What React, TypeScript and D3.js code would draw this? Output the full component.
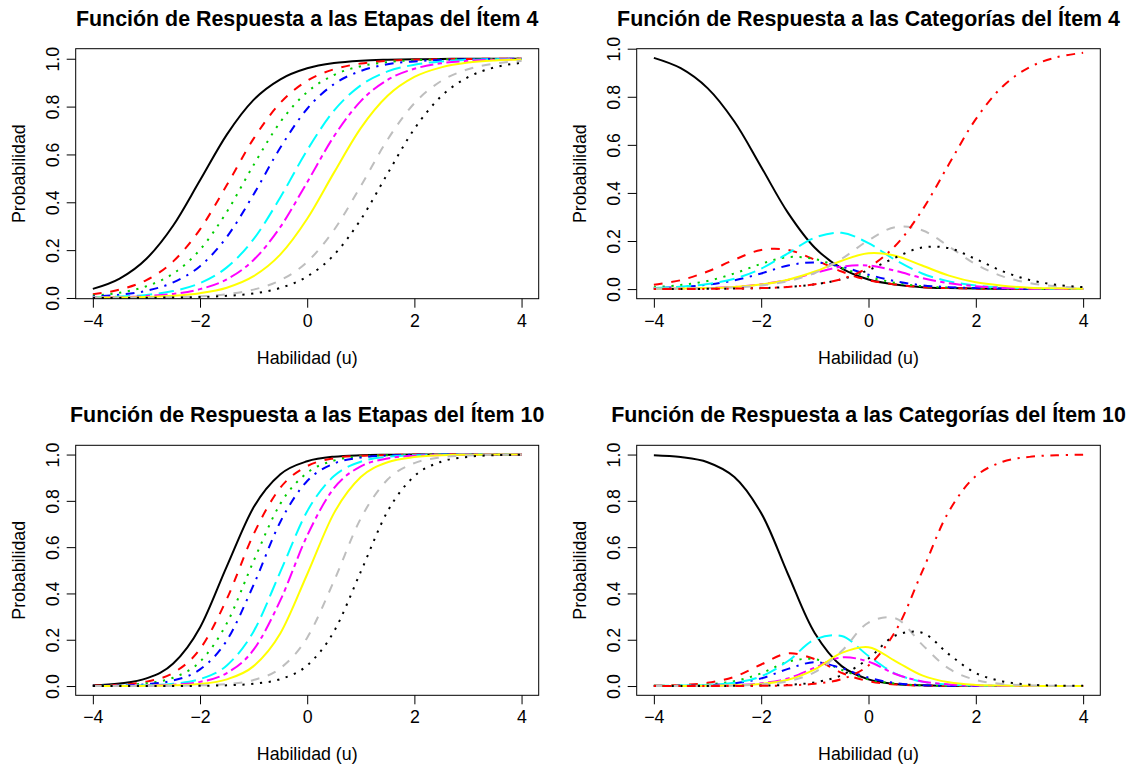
import React, { useEffect, useRef } from 'react';
import * as d3 from 'd3';

// ability grid (x) shared by every curve
const habilidad = [-4, -3.5, -3, -2.5, -2, -1.5, -1, -0.5, 0, 0.5, 1, 1.5, 2, 2.5, 3, 3.5, 4];

const xTicks = [-4, -2, 0, 2, 4];
const yTicks = [0, 0.2, 0.4, 0.6, 0.8, 1.0];

const titles = [
  'Función de Respuesta a las Etapas del Ítem 4',
  'Función de Respuesta a las Categorías del Ítem 4',
  'Función de Respuesta a las Etapas del Ítem 10',
  'Función de Respuesta a las Categorías del Ítem 10',
];
const xLabel = 'Habilidad (u)';
const yLabel = 'Probabilidad';

// R palette 1:8 and lty 1:6, recycled
const lineColors = ['#000000', '#FF0000', '#00CD00', '#0000FF', '#00FFFF', '#FF00FF', '#FFFF00', '#BEBEBE'];
const lineTypes = ['solid', 'dashed', 'dotted', 'dotdash', 'longdash', 'twodash'];

// item 4: cumulative (stage) curves
const item4Stages = [
  [0.038, 0.081, 0.164, 0.303, 0.492, 0.683, 0.828, 0.914, 0.960, 0.982, 0.992, 0.996, 0.998, 0.999, 1.000, 1.000, 1.000],
  [0.016, 0.035, 0.075, 0.153, 0.287, 0.472, 0.666, 0.816, 0.908, 0.956, 0.980, 0.991, 0.996, 0.998, 0.999, 1.000, 1.000],
  [0.010, 0.022, 0.049, 0.102, 0.202, 0.360, 0.556, 0.736, 0.861, 0.932, 0.969, 0.986, 0.994, 0.997, 0.999, 0.999, 1.000],
  [0.006, 0.014, 0.030, 0.065, 0.133, 0.255, 0.433, 0.629, 0.791, 0.894, 0.949, 0.977, 0.989, 0.995, 0.998, 0.999, 1.000],
  [0.003, 0.006, 0.013, 0.029, 0.062, 0.128, 0.246, 0.421, 0.618, 0.783, 0.889, 0.947, 0.975, 0.989, 0.995, 0.998, 0.999],
  [0.002, 0.003, 0.008, 0.017, 0.037, 0.078, 0.159, 0.297, 0.484, 0.676, 0.823, 0.912, 0.958, 0.981, 0.991, 0.996, 0.998],
  [0.001, 0.002, 0.004, 0.009, 0.020, 0.043, 0.091, 0.182, 0.331, 0.524, 0.710, 0.845, 0.924, 0.964, 0.984, 0.993, 0.997],
  [0.000, 0.001, 0.001, 0.003, 0.007, 0.016, 0.035, 0.074, 0.151, 0.284, 0.468, 0.662, 0.814, 0.907, 0.956, 0.980, 0.991],
  [0.000, 0.000, 0.001, 0.002, 0.004, 0.009, 0.019, 0.042, 0.090, 0.180, 0.328, 0.520, 0.707, 0.843, 0.923, 0.964, 0.983],
];

// item 4: category curves
const item4Categories = [
  [0.962, 0.919, 0.836, 0.697, 0.508, 0.317, 0.172, 0.086, 0.040, 0.019, 0.008, 0.004, 0.002, 0.001, 0.000, 0.000, 0.000],
  [0.018, 0.037, 0.073, 0.122, 0.163, 0.163, 0.122, 0.073, 0.037, 0.019, 0.008, 0.004, 0.002, 0.001, 0.000, 0.000, 0.000],
  [0.008, 0.017, 0.034, 0.065, 0.105, 0.133, 0.125, 0.088, 0.051, 0.026, 0.012, 0.006, 0.003, 0.001, 0.001, 0.000, 0.000],
  [0.004, 0.009, 0.018, 0.036, 0.065, 0.098, 0.111, 0.093, 0.060, 0.033, 0.016, 0.008, 0.004, 0.002, 0.001, 0.000, 0.000],
  [0.004, 0.010, 0.021, 0.043, 0.085, 0.149, 0.214, 0.234, 0.191, 0.121, 0.065, 0.032, 0.015, 0.007, 0.003, 0.001, 0.001],
  [0.001, 0.002, 0.004, 0.009, 0.020, 0.038, 0.067, 0.093, 0.098, 0.076, 0.046, 0.024, 0.012, 0.005, 0.002, 0.001, 0.001],
  [0.001, 0.002, 0.004, 0.009, 0.019, 0.039, 0.073, 0.118, 0.149, 0.139, 0.098, 0.056, 0.028, 0.014, 0.006, 0.003, 0.001],
  [0.001, 0.002, 0.003, 0.007, 0.015, 0.033, 0.067, 0.126, 0.203, 0.258, 0.245, 0.177, 0.103, 0.053, 0.025, 0.012, 0.005],
  [0.000, 0.000, 0.001, 0.002, 0.004, 0.009, 0.020, 0.041, 0.079, 0.131, 0.173, 0.170, 0.125, 0.074, 0.038, 0.018, 0.008],
  [0.000, 0.000, 0.001, 0.002, 0.004, 0.009, 0.020, 0.042, 0.090, 0.180, 0.328, 0.520, 0.707, 0.843, 0.923, 0.964, 0.983],
];

// item 10: cumulative (stage) curves
const item10Stages = [
  [0.003, 0.011, 0.033, 0.097, 0.253, 0.517, 0.772, 0.915, 0.971, 0.991, 0.997, 0.999, 1.000, 1.000, 1.000, 1.000, 1.000],
  [0.002, 0.006, 0.019, 0.057, 0.160, 0.376, 0.656, 0.857, 0.950, 0.984, 0.995, 0.998, 1.000, 1.000, 1.000, 1.000, 1.000],
  [0.001, 0.004, 0.012, 0.036, 0.105, 0.271, 0.540, 0.788, 0.921, 0.974, 0.992, 0.997, 0.999, 1.000, 1.000, 1.000, 1.000],
  [0.001, 0.002, 0.008, 0.024, 0.072, 0.197, 0.437, 0.710, 0.886, 0.961, 0.987, 0.996, 0.999, 1.000, 1.000, 1.000, 1.000],
  [0.000, 0.001, 0.003, 0.010, 0.030, 0.089, 0.236, 0.494, 0.755, 0.907, 0.969, 0.990, 0.997, 0.999, 1.000, 1.000, 1.000],
  [0.000, 0.001, 0.002, 0.006, 0.018, 0.056, 0.157, 0.371, 0.650, 0.855, 0.949, 0.983, 0.995, 0.998, 1.000, 1.000, 1.000],
  [0.000, 0.000, 0.001, 0.003, 0.009, 0.029, 0.086, 0.228, 0.483, 0.747, 0.903, 0.967, 0.989, 0.997, 0.999, 1.000, 1.000],
  [0.000, 0.000, 0.000, 0.001, 0.003, 0.008, 0.026, 0.077, 0.209, 0.454, 0.724, 0.892, 0.963, 0.988, 0.996, 0.999, 1.000],
  [0.000, 0.000, 0.000, 0.000, 0.001, 0.003, 0.010, 0.030, 0.089, 0.236, 0.494, 0.755, 0.907, 0.969, 0.990, 0.997, 0.999],
];

// item 10: category curves
const item10Categories = [
  [0.997, 0.989, 0.967, 0.903, 0.747, 0.483, 0.228, 0.086, 0.029, 0.009, 0.003, 0.001, 0.000, 0.000, 0.000, 0.000, 0.000],
  [0.002, 0.005, 0.014, 0.040, 0.093, 0.141, 0.116, 0.057, 0.021, 0.007, 0.002, 0.001, 0.000, 0.000, 0.000, 0.000, 0.000],
  [0.001, 0.002, 0.007, 0.021, 0.055, 0.105, 0.116, 0.070, 0.029, 0.010, 0.003, 0.001, 0.000, 0.000, 0.000, 0.000, 0.000],
  [0.000, 0.001, 0.004, 0.012, 0.033, 0.074, 0.103, 0.077, 0.036, 0.013, 0.004, 0.001, 0.000, 0.000, 0.000, 0.000, 0.000],
  [0.001, 0.002, 0.005, 0.014, 0.042, 0.108, 0.201, 0.216, 0.130, 0.054, 0.019, 0.006, 0.002, 0.001, 0.000, 0.000, 0.000],
  [0.000, 0.000, 0.001, 0.004, 0.012, 0.033, 0.079, 0.124, 0.105, 0.052, 0.020, 0.007, 0.002, 0.001, 0.000, 0.000, 0.000],
  [0.000, 0.000, 0.001, 0.003, 0.009, 0.027, 0.072, 0.143, 0.168, 0.108, 0.046, 0.016, 0.005, 0.002, 0.001, 0.000, 0.000],
  [0.000, 0.000, 0.001, 0.002, 0.007, 0.021, 0.060, 0.151, 0.274, 0.293, 0.179, 0.075, 0.026, 0.009, 0.003, 0.001, 0.000],
  [0.000, 0.000, 0.000, 0.001, 0.002, 0.005, 0.016, 0.047, 0.119, 0.218, 0.230, 0.137, 0.056, 0.020, 0.006, 0.002, 0.001],
  [0.000, 0.000, 0.000, 0.000, 0.001, 0.003, 0.010, 0.030, 0.089, 0.236, 0.494, 0.755, 0.907, 0.969, 0.990, 0.997, 0.999],
];

const FONT = '"Liberation Sans", Arial, Helvetica, sans-serif';

// dash arrays in px for lwd = 2
const dashFor = (lty) => {
  switch (lty) {
    case 'dashed': return '8.8,8.8';
    case 'dotted': return '2.2,6.6';
    case 'dotdash': return '2.2,6.6,8.8,6.6';
    case 'longdash': return '15.4,6.6';
    case 'twodash': return '4.4,4.4,13.2,4.4';
    default: return null;
  }
};

const App = () => {
  const svgRef = useRef(null);

  useEffect(() => {
    if (!svgRef.current) return;
    const svg = d3.select(svgRef.current);
    svg.selectAll('*').remove();

    const colLeft = [75.7, 636.7];
    const colRight = [538.7, 1100.3];
    const rowTop = [48.7, 445.3];
    const boxH = 250;

    const panels = [
      { title: titles[0], series: item4Stages, col: 0, row: 0, yDomain: [-0.003, 1.042], smooth: d3.curveMonotoneX },
      { title: titles[1], series: item4Categories, col: 1, row: 0, yDomain: [-0.04, 1.0], smooth: d3.curveCatmullRom.alpha(0.5) },
      { title: titles[2], series: item10Stages, col: 0, row: 1, yDomain: [-0.04, 1.04], smooth: d3.curveMonotoneX },
      { title: titles[3], series: item10Categories, col: 1, row: 1, yDomain: [-0.04, 1.04], smooth: d3.curveCatmullRom.alpha(0.5) },
    ];

    panels.forEach((p) => {
      const left = colLeft[p.col];
      const right = colRight[p.col];
      const top = rowTop[p.row];
      const w = right - left;

      const x = d3.scaleLinear().domain([-4.32, 4.32]).range([0, w]);
      const y = d3.scaleLinear().domain(p.yDomain).range([boxH, 0]);

      const g = svg.append('g').attr('transform', `translate(${left},${top})`);

      // curves, drawn in order so the last one sits on top
      const line = d3.line()
        .x((d, i) => x(habilidad[i]))
        .y((d) => y(d))
        .curve(p.smooth);

      p.series.forEach((vals, i) => {
        const lty = lineTypes[i % lineTypes.length];
        g.append('path')
          .attr('d', line(vals))
          .attr('fill', 'none')
          .attr('stroke', lineColors[i % lineColors.length])
          .attr('stroke-width', 2)
          .attr('stroke-dasharray', dashFor(lty))
          .attr('stroke-linecap', 'butt')
          .attr('stroke-linejoin', 'round');
      });

      // box
      g.append('rect')
        .attr('x', 0).attr('y', 0)
        .attr('width', w).attr('height', boxH)
        .attr('fill', 'none')
        .attr('stroke', '#000')
        .attr('stroke-width', 1);

      // x axis
      const xAxis = g.append('g')
        .attr('transform', `translate(0,${boxH})`)
        .call(d3.axisBottom(x).tickValues(xTicks).tickSize(9).tickSizeOuter(0)
          .tickFormat((d) => (d < 0 ? '\u2212' + Math.abs(d) : String(d))));
      xAxis.select('.domain').remove();
      xAxis.selectAll('line').attr('stroke', '#000');
      xAxis.selectAll('text')
        .attr('y', 28).attr('dy', null)
        .attr('fill', '#000')
        .style('font-family', FONT).style('font-size', '17.8px');

      // y axis
      const yAxis = g.append('g')
        .call(d3.axisLeft(y).tickValues(yTicks).tickSize(9).tickSizeOuter(0).tickFormat(d3.format('.1f')));
      yAxis.select('.domain').remove();
      yAxis.selectAll('line').attr('stroke', '#000');
      yAxis.selectAll('text')
        .attr('transform', 'rotate(-90)')
        .attr('x', 0).attr('y', -16.4).attr('dy', null)
        .attr('text-anchor', 'middle')
        .attr('fill', '#000')
        .style('font-family', FONT).style('font-size', '17.8px');

      // axis titles
      g.append('text')
        .attr('x', w / 2).attr('y', boxH + 65)
        .attr('text-anchor', 'middle')
        .style('font-family', FONT).style('font-size', '17.8px')
        .text(xLabel);

      g.append('text')
        .attr('transform', `translate(-50.7,${boxH / 2}) rotate(-90)`)
        .attr('text-anchor', 'middle')
        .style('font-family', FONT).style('font-size', '17.8px')
        .text(yLabel);

      // title
      g.append('text')
        .attr('x', w / 2).attr('y', -23)
        .attr('text-anchor', 'middle')
        .style('font-family', FONT).style('font-size', '21.4px').style('font-weight', 'bold')
        .text(p.title);
    });
  }, []);

  return (
    <svg ref={svgRef} width={1131} height={764}
      style={{ position: 'absolute', left: 0, top: 0, background: '#ffffff' }} />
  );
};

export default App;
